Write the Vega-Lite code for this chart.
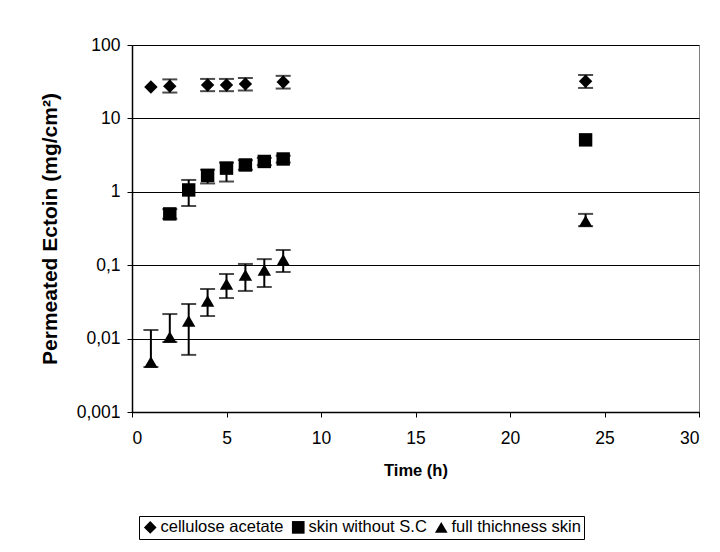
{
  "$schema": "https://vega.github.io/schema/vega-lite/v6.json",
  "width": 567,
  "height": 367,
  "autosize": "none",
  "padding": {"left": 132, "top": 45, "right": 21, "bottom": 140},
  "background": "white",
  "data": {
    "values": [
      {"series": "cellulose acetate", "t": 1, "v": 26.8, "lo": 26.8, "hi": 26.8},
      {"series": "cellulose acetate", "t": 2, "v": 27.5, "lo": 22.5, "hi": 34},
      {"series": "cellulose acetate", "t": 4, "v": 28.5, "lo": 23.5, "hi": 34.5},
      {"series": "cellulose acetate", "t": 5, "v": 28.5, "lo": 23.5, "hi": 34.5},
      {"series": "cellulose acetate", "t": 6, "v": 29.5, "lo": 24, "hi": 35.5},
      {"series": "cellulose acetate", "t": 8, "v": 31.3, "lo": 25.5, "hi": 38},
      {"series": "cellulose acetate", "t": 24, "v": 32, "lo": 26, "hi": 39},
      {"series": "skin without S.C", "t": 2, "v": 0.5, "lo": 0.43, "hi": 0.58},
      {"series": "skin without S.C", "t": 3, "v": 1.06, "lo": 0.64, "hi": 1.45},
      {"series": "skin without S.C", "t": 4, "v": 1.67, "lo": 1.3, "hi": 2.0},
      {"series": "skin without S.C", "t": 5, "v": 2.1, "lo": 1.38, "hi": 2.5},
      {"series": "skin without S.C", "t": 6, "v": 2.32, "lo": 2.0, "hi": 2.7},
      {"series": "skin without S.C", "t": 7, "v": 2.59, "lo": 2.3, "hi": 2.9},
      {"series": "skin without S.C", "t": 8, "v": 2.8, "lo": 2.5, "hi": 3.1},
      {"series": "skin without S.C", "t": 24, "v": 5.1, "lo": 5.1, "hi": 5.1},
      {"series": "full thichness skin", "t": 1, "v": 0.0048, "lo": 0.0041, "hi": 0.0131},
      {"series": "full thichness skin", "t": 2, "v": 0.0105, "lo": 0.009, "hi": 0.0216},
      {"series": "full thichness skin", "t": 3, "v": 0.0174, "lo": 0.006, "hi": 0.0296},
      {"series": "full thichness skin", "t": 4, "v": 0.0325, "lo": 0.0203, "hi": 0.0474},
      {"series": "full thichness skin", "t": 5, "v": 0.0555, "lo": 0.0357, "hi": 0.0759},
      {"series": "full thichness skin", "t": 6, "v": 0.0735, "lo": 0.0446, "hi": 0.104},
      {"series": "full thichness skin", "t": 7, "v": 0.086, "lo": 0.0505, "hi": 0.121},
      {"series": "full thichness skin", "t": 8, "v": 0.118, "lo": 0.0808, "hi": 0.161},
      {"series": "full thichness skin", "t": 24, "v": 0.4, "lo": 0.34, "hi": 0.5}
    ]
  },
  "layer": [
    {
      "transform": [{"filter": "datum.hi > datum.lo"}],
      "mark": {
        "type": "errorbar",
        "color": "black",
        "thickness": 2,
        "ticks": {"size": 15, "thickness": 2, "color": "black"}
      },
      "encoding": {
        "x": {"field": "t", "type": "quantitative", "scale": {"domain": [0, 30]},
              "axis": {"title": "Time (h)", "values": [0, 5, 10, 15, 20, 25, 30], "grid": false}},
        "y": {"field": "lo", "type": "quantitative",
              "scale": {"type": "log", "domain": [0.001, 100]},
              "axis": {"title": "Permeated Ectoin (mg/cm²)", "values": [0.001, 0.01, 0.1, 1, 10, 100],
                       "labelExpr": "datum.value >= 1 ? format(datum.value, 'd') : replace(toString(datum.value), '.', ',')"}},
        "y2": {"field": "hi"}
      }
    },
    {
      "mark": {"type": "point", "filled": true, "color": "black", "opacity": 1, "strokeWidth": 0, "size": 180},
      "encoding": {
        "x": {"field": "t", "type": "quantitative", "scale": {"domain": [0, 30]},
              "axis": {"title": "Time (h)", "values": [0, 5, 10, 15, 20, 25, 30], "grid": false}},
        "y": {"field": "v", "type": "quantitative",
              "scale": {"type": "log", "domain": [0.001, 100]},
              "axis": {"title": "Permeated Ectoin (mg/cm²)", "values": [0.001, 0.01, 0.1, 1, 10, 100],
                       "labelExpr": "datum.value >= 1 ? format(datum.value, 'd') : replace(toString(datum.value), '.', ',')"}},
        "shape": {
          "field": "series", "type": "nominal",
          "scale": {"domain": ["cellulose acetate", "skin without S.C", "full thichness skin"],
                    "range": ["diamond", "square", "triangle-up"]},
          "legend": {
            "title": null, "orient": "none", "direction": "horizontal",
            "legendX": 7, "legendY": 471,
            "strokeColor": "black", "padding": 3,
            "symbolFillColor": "black", "symbolStrokeColor": "black", "symbolStrokeWidth": 0, "symbolSize": 160,
            "labelFontSize": 16.5, "labelFont": "Liberation Sans", "labelColor": "black",
            "columnPadding": 6, "labelOffset": 2
          }
        }
      }
    }
  ],
  "config": {
    "font": "Liberation Sans",
    "view": {"stroke": "#808080", "strokeWidth": 1},
    "axis": {
      "labelFont": "Liberation Sans", "labelFontSize": 17.5, "labelColor": "black",
      "titleFont": "Liberation Sans", "titleFontSize": 17, "titleFontWeight": "bold", "titleColor": "black",
      "domainColor": "black", "domainWidth": 1.5, "tickColor": "black", "tickSize": 5,
      "gridColor": "black", "gridWidth": 1
    },
    "axisX": {"labelPadding": 12, "titlePadding": 16, "titleFontSize": 16.5},
    "axisY": {"labelPadding": 7, "titlePadding": 16, "titleFontSize": 21}
  }
}
